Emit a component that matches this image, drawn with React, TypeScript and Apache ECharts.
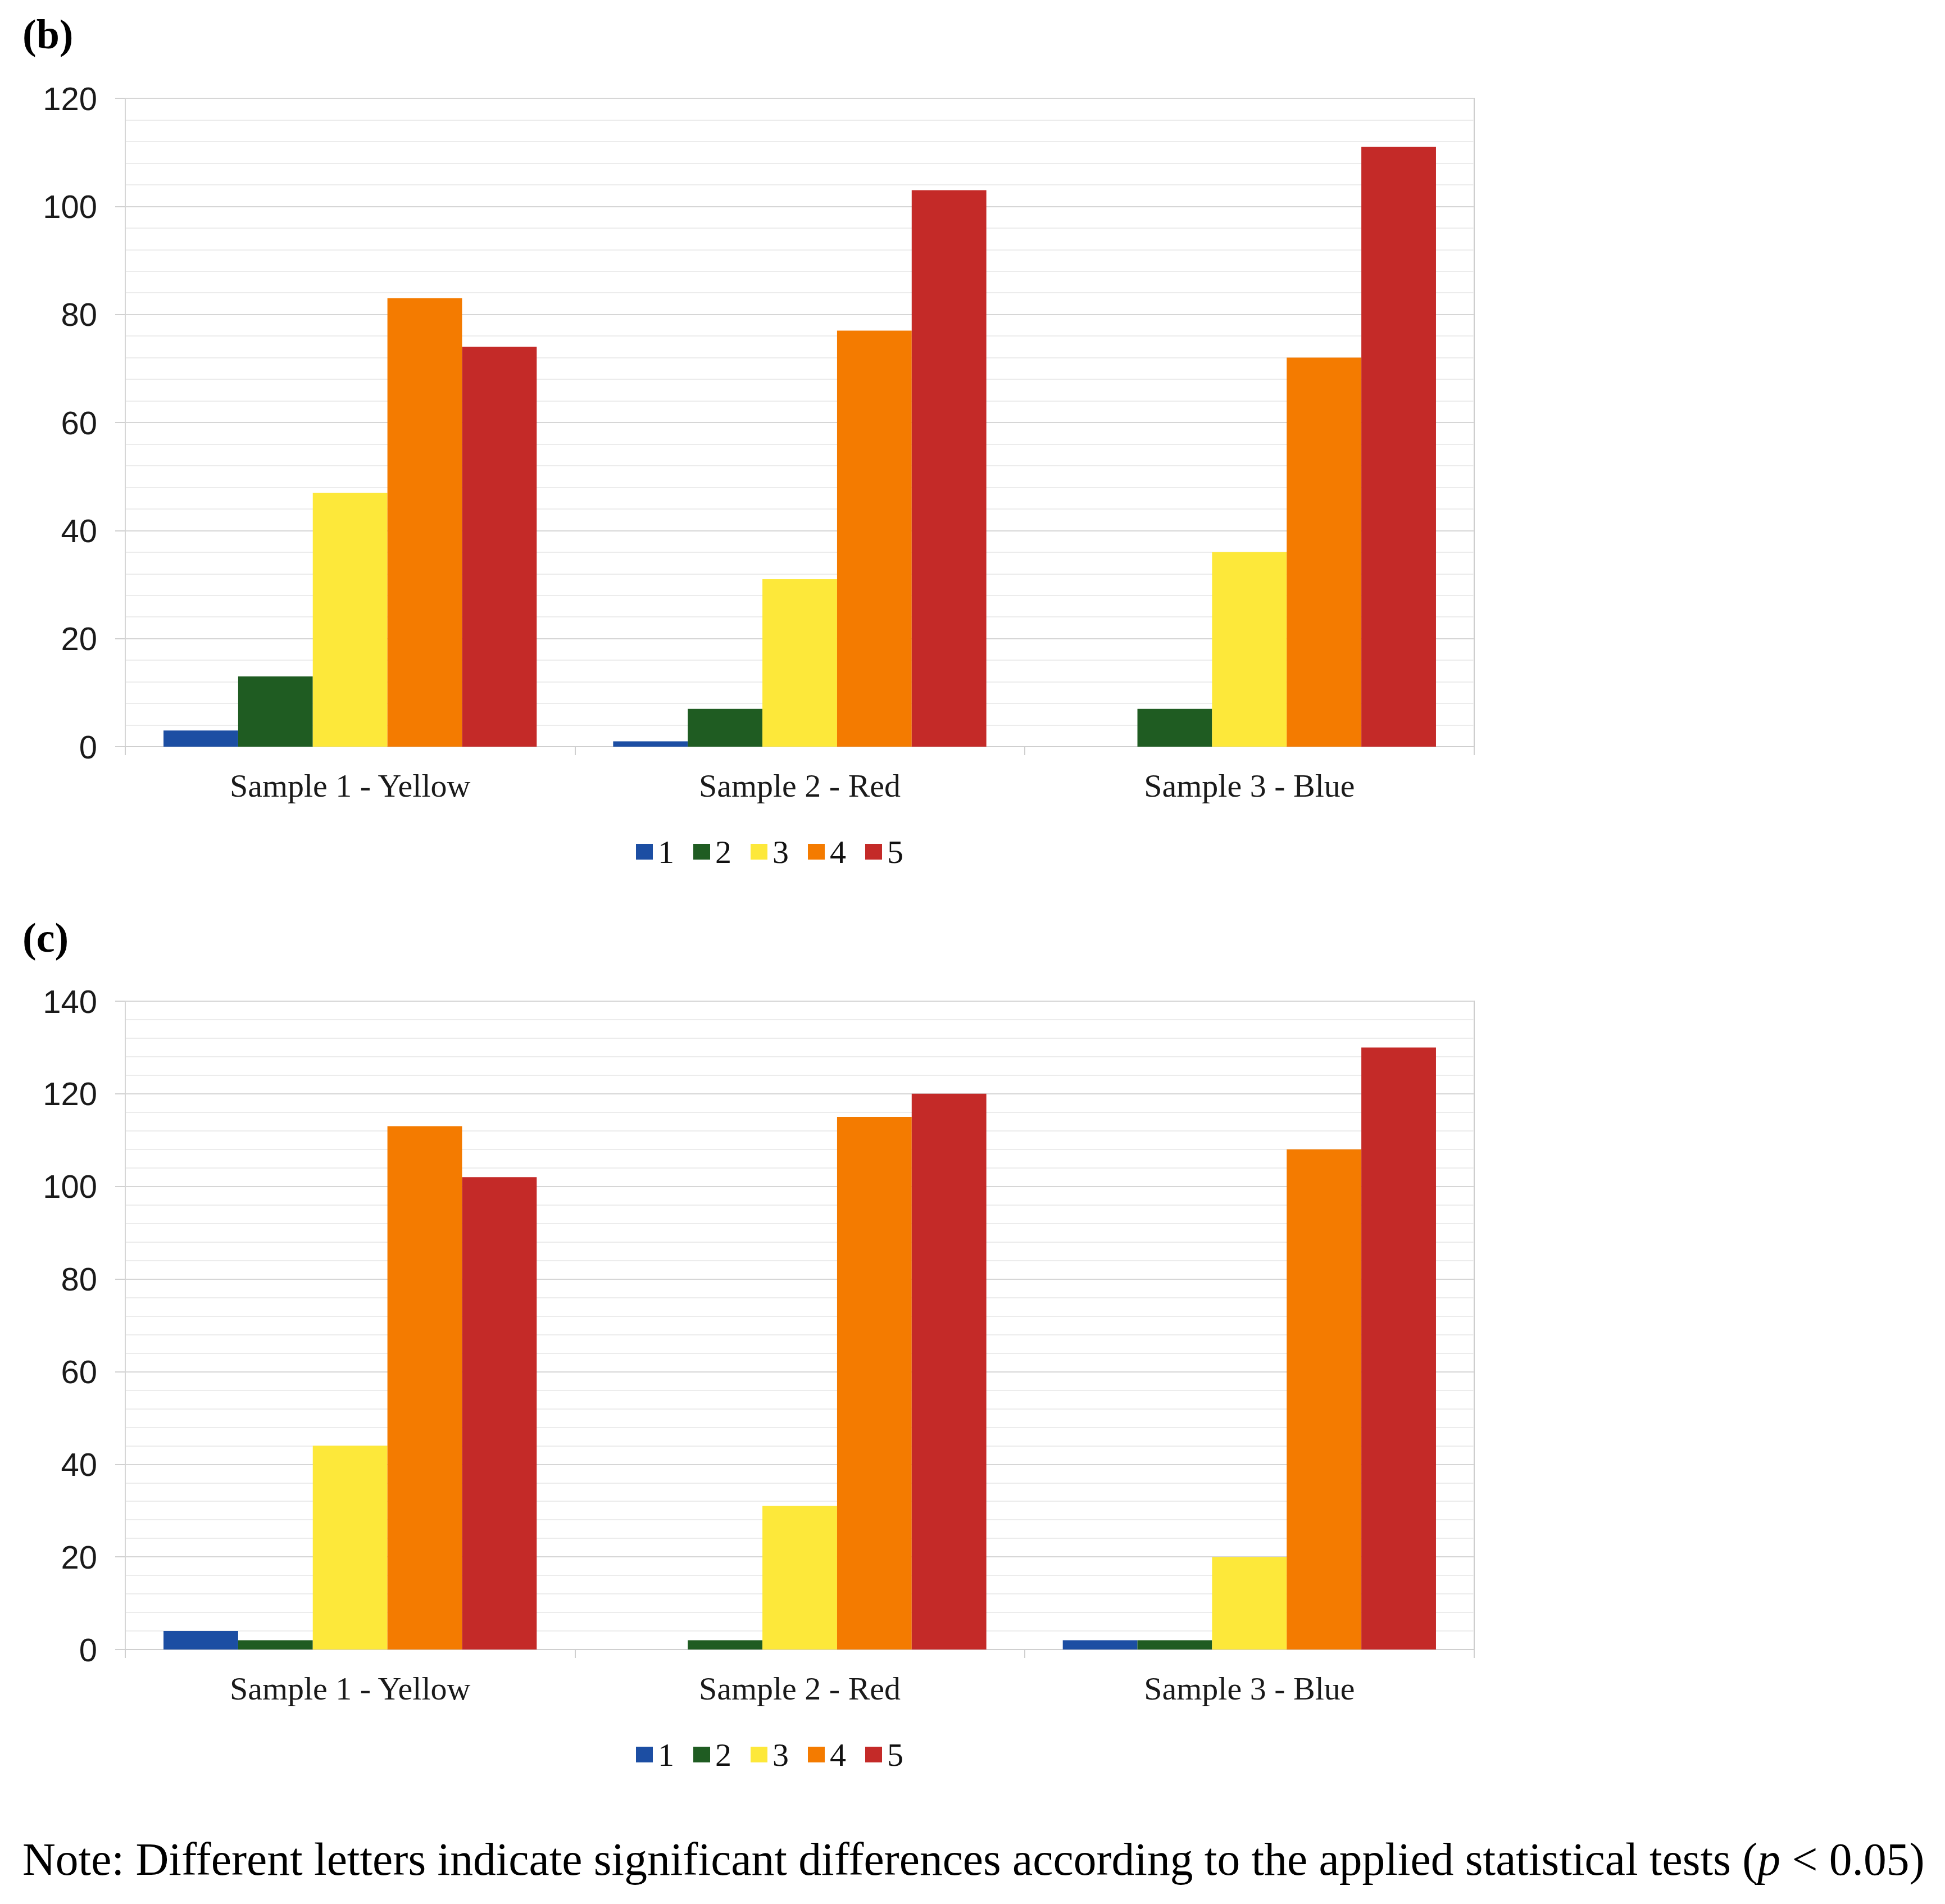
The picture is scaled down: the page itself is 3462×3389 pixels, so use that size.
import { useEffect, useRef } from 'react';
import * as echarts from 'echarts';

const categories = ['Sample 1 - Yellow', 'Sample 2 - Red', 'Sample 3 - Blue'];
const seriesNames = ['1', '2', '3', '4', '5'];
const seriesColors = ['#1c4ea3', '#1f5c22', '#fde83a', '#f47b00', '#c42a28'];

// panel (b)
const b1 = [3, 1, 0];
const b2 = [13, 7, 7];
const b3 = [47, 31, 36];
const b4 = [83, 77, 72];
const b5 = [74, 103, 111];

// panel (c)
const c1 = [4, 0, 2];
const c2 = [2, 2, 2];
const c3 = [44, 31, 20];
const c4 = [113, 115, 108];
const c5 = [102, 120, 130];

const panelB = [b1, b2, b3, b4, b5];
const panelC = [c1, c2, c3, c4, c5];

const noteText = 'Note: Different letters indicate significant differences according to the applied statistical tests (';

const serif = '"Liberation Serif", "Times New Roman", serif';
const sans = '"Liberation Sans", Arial, sans-serif';

export default function App() {
  const chartRef = useRef<HTMLDivElement>(null);

  useEffect(() => {
    document.body.style.margin = '0';
    if (!chartRef.current) return;
    const chart = echarts.init(chartRef.current, undefined, { renderer: 'svg' });

    const gridTops = [175, 1782];
    const legendTops = [1487, 3094];

    const makeXAxis = (i: number) => ({
      type: 'category',
      gridIndex: i,
      data: categories,
      axisLine: { show: true, lineStyle: { color: '#cfcfcf', width: 2 } },
      axisTick: { show: true, length: 15, lineStyle: { color: '#cfcfcf', width: 2 } },
      axisLabel: { color: '#1a1a1a', fontFamily: serif, fontSize: 58, margin: 40 },
      splitLine: { show: false },
    });

    const makeYAxis = (i: number, max: number) => ({
      type: 'value',
      gridIndex: i,
      min: 0,
      max: max,
      interval: 20,
      axisLine: { show: true, lineStyle: { color: '#d6d6d6', width: 2 } },
      axisTick: { show: true, length: 18, lineStyle: { color: '#d0d0d0', width: 2 } },
      axisLabel: { color: '#1a1a1a', fontFamily: sans, fontSize: 58, margin: 50 },
      splitLine: { show: true, lineStyle: { color: '#d6d6d6', width: 2 } },
      minorTick: { show: false, splitNumber: 5 },
      minorSplitLine: { show: true, lineStyle: { color: '#ececec', width: 2 } },
    });

    const makeSeries = (panel: number[][], i: number) =>
      panel.map((values, k) => ({
        name: seriesNames[k],
        type: 'bar',
        xAxisIndex: i,
        yAxisIndex: i,
        data: values,
        barGap: '0%',
        barCategoryGap: '17%',
        itemStyle: { color: seriesColors[k] },
      }));

    const option = {
      animation: false,
      backgroundColor: '#ffffff',
      grid: gridTops.map((top) => ({
        left: 223,
        top: top,
        width: 2401,
        height: 1154,
        show: true,
        borderColor: '#cccccc',
        borderWidth: 2,
      })),
      xAxis: [makeXAxis(0), makeXAxis(1)],
      yAxis: [makeYAxis(0, 120), makeYAxis(1, 140)],
      legend: legendTops.map((top) => ({
        data: seriesNames,
        left: 1132,
        top: top,
        padding: 0,
        itemWidth: 30,
        itemHeight: 28,
        itemGap: 34,
        icon: 'rect',
        selectedMode: false,
        textStyle: { color: '#111111', fontFamily: serif, fontSize: 58, padding: [0, 0, 0, 4] },
      })),
      series: [...makeSeries(panelB, 0), ...makeSeries(panelC, 1)],
      graphic: [
        {
          type: 'text',
          left: 40,
          top: 24,
          style: { text: '(b)', font: `bold 74px ${serif}`, fill: '#000000' },
        },
        {
          type: 'text',
          left: 40,
          top: 1632,
          style: { text: '(c)', font: `bold 74px ${serif}`, fill: '#000000' },
        },
        {
          type: 'text',
          left: 40,
          top: 3268,
          style: {
            text: noteText + '{i|p} < 0.05)',
            font: `81.5px ${serif}`,
            fill: '#000000',
            rich: {
              i: { fontFamily: serif, fontSize: 81.5, fontStyle: 'italic', fill: '#000000' },
            },
          },
        },
      ],
    };

    chart.setOption(option);

    const handleResize = () => {
      chart.resize();
    };
    window.addEventListener('resize', handleResize);

    return () => {
      chart.dispose();
      window.removeEventListener('resize', handleResize);
    };
  }, []);

  return <div ref={chartRef} style={{ width: '3462px', height: '3389px' }}></div>;
}
